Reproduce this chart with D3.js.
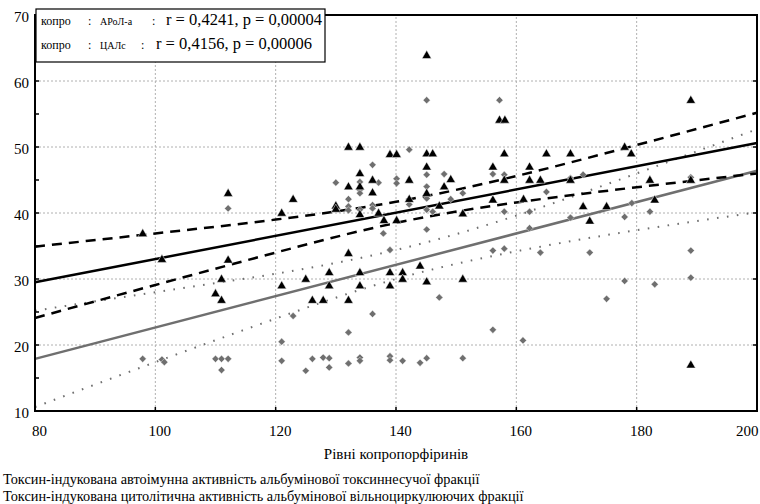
<!DOCTYPE html>
<html>
<head>
<meta charset="utf-8">
<script src="https://cdn.jsdelivr.net/npm/d3@7"></script>
<style>
  body { margin: 0; background: #fff; }
  svg, svg text { font-family: "Liberation Serif", "DejaVu Serif", serif; }
</style>
</head>
<body>
<svg id="chart" width="760" height="504"></svg>
<script>
// tick labels
const xTicks = [80, 100, 120, 140, 160, 180, 200];
const yTicks = [10, 20, 30, 40, 50, 60, 70];
const yMinor = [15, 25, 35, 45, 55, 65];

// copro vs АРоЛ-а (black triangles)
const aroaPoints = [
  [97.9, 36.9], [101.1, 33.0], [110.0, 27.8], [111.0, 26.8], [111.0, 30.0], [112.1, 32.9],
  [112.1, 43.0], [121.0, 40.0], [121.0, 29.0], [122.9, 42.1], [125.0, 30.0], [126.1, 26.8],
  [127.9, 26.8], [128.9, 31.0], [128.9, 29.0], [130.0, 41.1], [130.0, 40.6], [132.1, 50.0],
  [132.1, 44.0], [132.1, 33.9], [132.1, 26.8], [134.0, 50.0], [134.0, 46.0], [134.0, 44.0],
  [134.0, 39.8], [134.0, 31.0], [134.0, 29.0], [136.1, 45.0], [136.1, 43.1], [137.1, 40.0],
  [138.0, 38.9], [139.0, 48.9], [139.0, 31.0], [139.0, 29.0], [140.1, 48.9], [140.1, 38.9],
  [141.1, 31.0], [141.1, 30.0], [142.2, 45.0], [142.2, 42.1], [144.0, 32.0], [145.1, 63.9],
  [145.1, 49.0], [145.1, 47.0], [145.1, 43.0], [145.1, 29.6], [146.1, 49.0], [147.2, 41.1],
  [148.0, 44.0], [149.1, 45.1], [151.1, 39.9], [151.1, 30.0], [156.1, 47.0], [156.1, 42.0],
  [157.2, 54.1], [158.1, 54.1], [158.0, 49.0], [158.0, 45.0], [161.2, 42.1], [162.2, 47.0],
  [162.2, 45.0], [164.0, 45.0], [165.0, 49.0], [169.0, 49.0], [169.0, 45.0], [171.1, 41.0],
  [172.2, 38.8], [175.0, 41.0], [178.0, 50.0], [179.1, 49.0], [182.2, 45.0], [183.0, 42.0],
  [189.0, 57.1], [189.0, 45.0], [189.0, 17.0]
];

// copro vs ЦАЛс (grey diamonds)
const calsPoints = [
  [97.9, 17.9], [101.1, 17.8], [101.5, 17.4], [110.0, 17.9], [111.0, 17.9], [112.1, 17.9],
  [111.0, 16.2], [112.1, 40.7], [121.0, 20.5], [121.0, 17.6], [122.9, 24.4], [125.0, 16.1],
  [126.1, 17.9], [127.9, 18.1], [128.9, 18.0], [128.9, 16.6], [130.0, 44.6], [132.1, 42.1],
  [132.1, 41.0], [132.1, 40.4], [132.1, 21.9], [132.1, 17.2], [134.0, 44.7], [134.0, 43.5],
  [134.0, 43.0], [134.0, 40.5], [134.0, 18.1], [134.0, 17.6], [136.1, 47.3], [136.1, 41.2],
  [136.1, 40.7], [136.1, 24.7], [137.1, 44.6], [137.9, 36.9], [139.0, 34.4], [139.0, 18.3],
  [139.0, 17.7], [140.1, 45.2], [140.1, 44.5], [141.1, 17.6], [142.2, 49.6], [142.2, 41.3],
  [144.0, 17.3], [145.1, 57.1], [145.1, 45.8], [145.1, 44.0], [145.1, 42.2], [145.1, 40.5],
  [145.1, 37.5], [145.1, 18.0], [146.1, 40.2], [147.2, 27.2], [148.0, 45.9], [149.1, 42.1],
  [151.1, 43.0], [151.1, 18.0], [156.1, 45.9], [156.1, 34.3], [156.1, 22.3], [157.2, 57.1],
  [158.0, 45.8], [158.0, 40.2], [158.0, 34.6], [161.1, 20.7], [162.2, 40.2], [162.2, 37.7],
  [164.0, 34.0], [165.0, 43.2], [169.0, 45.3], [169.0, 39.3], [171.1, 45.8], [172.2, 34.0],
  [175.0, 27.0], [178.0, 39.4], [178.0, 29.7], [179.2, 41.5], [182.2, 40.2], [183.0, 29.2],
  [189.0, 45.4], [189.0, 34.3], [189.0, 30.2]
];

// regression lines and 95% bands
const bandX = [80, 100, 120, 140, 160, 180, 200];
const aroaFit = [[80, 29.5], [200, 50.6]];
const aroaUpper = [34.9, 36.9, 39.0, 41.7, 45.6, 50.3, 55.2];
const aroaLower = [24.1, 29.1, 34.0, 38.5, 41.6, 43.9, 46.0];
const calsFit = [[80, 17.9], [200, 46.4]];
const calsUpper = [25.2, 28.0, 30.8, 34.4, 39.6, 46.0, 52.7];
const calsLower = [10.6, 17.4, 24.0, 30.0, 34.2, 37.4, 40.1];

const legendRows = [
  { a: "копро", b: "АРоЛ-а", stat: "r = 0,4241, p = 0,00004" },
  { a: "копро", b: "ЦАЛс", stat: "r = 0,4156, p = 0,00006" }
];
const xTitle = "Рівні копропорфіринів";
const notes = [
  "Токсин-індукована автоімунна активність альбумінової токсиннесучої фракції",
  "Токсин-індукована цитолітична активність альбумінової вільноциркулюючих фракції"
];

const FONT = "Liberation Serif, DejaVu Serif, serif";
const svg = d3.select("#chart").attr("font-family", FONT);
const margin = { top: 15, right: 3, bottom: 93, left: 35 };
const W = 760, H = 504;

const x = d3.scaleLinear().domain([80, 200]).range([margin.left, W - margin.right]);
const y = d3.scaleLinear().domain([10, 70]).range([H - margin.bottom, margin.top]);

const grey = "#6f6f6f";

// grid
svg.append("g").selectAll("line")
  .data(xTicks.slice(1, -1))
  .enter().append("line")
  .attr("x1", d => x(d)).attr("x2", d => x(d))
  .attr("y1", y(10)).attr("y2", y(70))
  .attr("stroke", "#b0b0b0").attr("stroke-dasharray", "2,2");
svg.append("g").selectAll("line")
  .data(yTicks.slice(1, -1))
  .enter().append("line")
  .attr("x1", x(80)).attr("x2", x(200))
  .attr("y1", d => y(d)).attr("y2", d => y(d))
  .attr("stroke", "#b0b0b0").attr("stroke-dasharray", "2,2");

// fit lines and bands
const line = d3.line().x(d => x(d[0])).y(d => y(d[1]));
const curve = d3.line().x(d => x(d[0])).y(d => y(d[1])).curve(d3.curveNatural);
const zipBand = vals => bandX.map((v, i) => [v, vals[i]]);

svg.append("path").attr("d", curve(zipBand(calsUpper)))
  .attr("fill", "none").attr("stroke", grey).attr("stroke-width", 2)
  .attr("stroke-dasharray", "1.6,8.4");
svg.append("path").attr("d", curve(zipBand(calsLower)))
  .attr("fill", "none").attr("stroke", grey).attr("stroke-width", 2)
  .attr("stroke-dasharray", "1.6,8.4");
svg.append("path").attr("d", line(calsFit))
  .attr("fill", "none").attr("stroke", grey).attr("stroke-width", 2.5);

svg.append("path").attr("d", curve(zipBand(aroaUpper)))
  .attr("fill", "none").attr("stroke", "#000").attr("stroke-width", 2.5)
  .attr("stroke-dasharray", "10,7");
svg.append("path").attr("d", curve(zipBand(aroaLower)))
  .attr("fill", "none").attr("stroke", "#000").attr("stroke-width", 2.5)
  .attr("stroke-dasharray", "10,7");
svg.append("path").attr("d", line(aroaFit))
  .attr("fill", "none").attr("stroke", "#000").attr("stroke-width", 2.5);

// points
const diamond = d3.symbol(d3.symbolSquare, 26)();
svg.append("g").selectAll("path")
  .data(calsPoints)
  .enter().append("path")
  .attr("d", diamond)
  .attr("transform", d => `translate(${x(d[0])},${y(d[1])}) rotate(45)`)
  .attr("fill", grey).attr("stroke", "#fff").attr("stroke-width", 0.4);

const tri = d3.symbol(d3.symbolTriangle, 38)();
svg.append("g").selectAll("path")
  .data(aroaPoints)
  .enter().append("path")
  .attr("d", tri)
  .attr("transform", d => `translate(${x(d[0])},${y(d[1]) + 0.5})`)
  .attr("fill", "#000").attr("stroke", "#fff").attr("stroke-width", 0.5);

// frame
svg.append("rect")
  .attr("x", x(80)).attr("y", y(70))
  .attr("width", x(200) - x(80)).attr("height", y(10) - y(70))
  .attr("fill", "none").attr("stroke", "#000").attr("stroke-width", 2);

// ticks
const tk = svg.append("g").attr("stroke", "#000").attr("stroke-width", 1.5);
tk.selectAll(".yl").data(yTicks.concat(yMinor)).enter().append("line")
  .attr("x1", x(80)).attr("x2", x(80) + 4)
  .attr("y1", d => y(d)).attr("y2", d => y(d));
tk.selectAll(".yr").data(yTicks).enter().append("line")
  .attr("x1", x(200)).attr("x2", x(200) - 4)
  .attr("y1", d => y(d)).attr("y2", d => y(d));
tk.selectAll(".xb").data(xTicks).enter().append("line")
  .attr("x1", d => x(d)).attr("x2", d => x(d))
  .attr("y1", y(10)).attr("y2", y(10) - 4);

// axis labels
const xAxis = svg.append("g")
  .attr("transform", `translate(4,${y(10)})`)
  .call(d3.axisBottom(x).tickValues(xTicks).tickSize(0).tickPadding(14));
xAxis.attr("font-family", FONT);
xAxis.select(".domain").remove();
xAxis.selectAll("text").attr("font-size", 15).attr("fill", "#000");
xAxis.selectAll("text").filter(d => d === 200).attr("text-anchor", "end").attr("dx", -3);

const yAxis = svg.append("g")
  .attr("transform", `translate(${x(80) - 6},2)`)
  .call(d3.axisLeft(y).tickValues(yTicks).tickSize(0).tickPadding(0));
yAxis.attr("font-family", FONT);
yAxis.select(".domain").remove();
yAxis.selectAll("text").attr("font-size", 15).attr("fill", "#000");

svg.append("text")
  .attr("x", x(140)).attr("y", 459)
  .attr("text-anchor", "middle").attr("font-size", 15)
  .text(xTitle);

svg.selectAll(".note").data(notes).enter().append("text")
  .attr("x", 3).attr("y", (d, i) => 484 + i * 17)
  .attr("font-size", 14.3)
  .text(d => d);

// legend box
const lg = svg.append("g");
lg.append("rect")
  .attr("x", 36).attr("y", 9).attr("width", 289).attr("height", 53)
  .attr("fill", "#fff").attr("stroke", "#000").attr("stroke-width", 1.2);
const rows = lg.selectAll(".row").data(legendRows).enter().append("g")
  .attr("transform", (d, i) => `translate(0,${25 + i * 24})`);
rows.append("text").attr("x", 41).attr("font-size", 12).text(d => d.a);
rows.append("text").attr("x", 88).attr("font-size", 12).text(":");
rows.append("text").attr("x", 100).attr("font-size", 10).text(d => d.b);
rows.append("text").attr("x", (d, i) => i === 0 ? 152 : 141).attr("font-size", 12).text(":");
rows.append("text").attr("x", (d, i) => i === 0 ? 166 : 156).attr("font-size", 16.5).text(d => d.stat);
</script>
</body>
</html>
